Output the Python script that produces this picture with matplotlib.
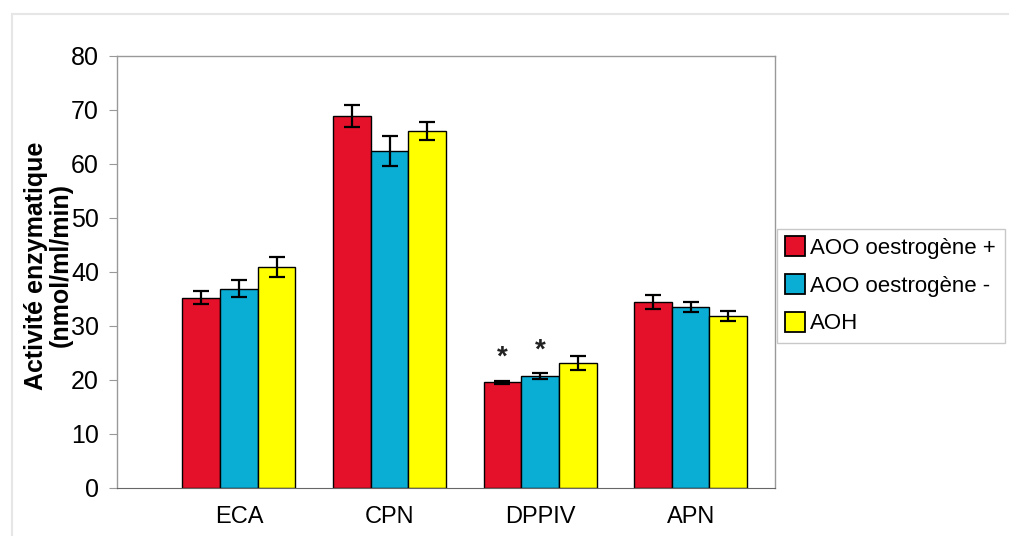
import matplotlib.pyplot as plt
import numpy as np
from matplotlib.lines import Line2D

plt.rcParams["font.family"] = ["Liberation Sans", "DejaVu Sans"]

categories = ["ECA", "CPN", "DPPIV", "APN"]
series_names = ["AOO oestrogène +", "AOO oestrogène -", "AOH"]
colors = ["#E5102A", "#0AADD4", "#FFFF00"]

aoo_plus = [35.2, 68.9, 19.6, 34.4]
aoo_minus = [36.9, 62.4, 20.7, 33.5]
aoh = [40.9, 66.1, 23.1, 31.8]

aoo_plus_err = [1.2, 2.0, 0.3, 1.3]
aoo_minus_err = [1.6, 2.7, 0.6, 1.0]
aoh_err = [1.9, 1.7, 1.3, 0.9]

# (series index, category index) pairs marked significant
stars = [(0, 2), (1, 2)]

values = [aoo_plus, aoo_minus, aoh]
errors = [aoo_plus_err, aoo_minus_err, aoh_err]

fig = plt.figure(figsize=(10.13, 5.36), dpi=100)
ax = fig.add_axes([0.1155, 0.0896, 0.6495, 0.806])

x = np.arange(len(categories))
width = 0.25
for i, (vals, errs) in enumerate(zip(values, errors)):
    pos = x + (i - 1) * width
    ax.bar(pos, vals, width, color=colors[i], edgecolor="black", linewidth=1.0,
           yerr=errs, error_kw=dict(ecolor="black", elinewidth=1.6, capsize=6, capthick=1.6),
           zorder=2)

for si, ci in stars:
    xp = x[ci] + (si - 1) * width
    top = values[si][ci] + errors[si][ci]
    ax.text(xp, top + 1.8, "*", ha="center", va="bottom", fontsize=20,
            fontweight="bold", color="#222222")

ax.set_xlim(-0.81, 3.56)
ax.set_ylim(0, 80)
ax.set_yticks(range(0, 81, 10))
ax.set_xticks(x)
ax.set_xticklabels(categories)
ax.tick_params(axis="x", length=0, pad=13, labelsize=17)
ax.tick_params(axis="y", length=6, width=0.8, color="#999999", pad=7, labelsize=18)

for side in ["top", "right", "left"]:
    ax.spines[side].set_color("#999999")
    ax.spines[side].set_linewidth(1.0)
ax.spines["bottom"].set_color("#666666")

ax.set_ylabel("Activité enzymatique\n(nmol/ml/min)", fontsize=18,
              fontweight="bold", linespacing=1.0)
ax.yaxis.set_label_coords(-0.068, 0.515)

handles = [Line2D([], [], marker="s", linestyle="", markersize=14,
                  markerfacecolor=c, markeredgecolor="black", markeredgewidth=1.3)
           for c in colors]
leg = fig.legend(handles, series_names, loc="center left",
                 bbox_to_anchor=(0.767, 0.466), fontsize=16, frameon=True,
                 fancybox=False, edgecolor="#bbbbbb", handlelength=0.8,
                 handletextpad=0.3, labelspacing=0.75, borderpad=0.4,
                 borderaxespad=0)

# faint outer chart border
fig.add_artist(Line2D([0.012, 0.995], [0.974, 0.974], color="#e6e6e6", lw=1.5))
fig.add_artist(Line2D([0.012, 0.012], [0.974, 0.0], color="#e6e6e6", lw=1.5))

fig.savefig("out.png", dpi=100)
